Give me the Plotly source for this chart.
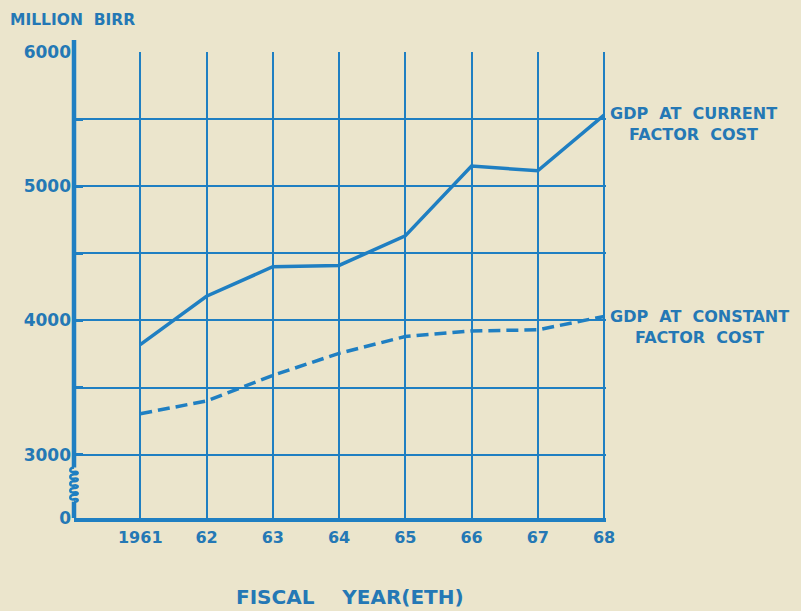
import plotly.graph_objects as go

years = [1961, 1962, 1963, 1964, 1965, 1966, 1967, 1968]
year_labels = ["1961", "62", "63", "64", "65", "66", "67", "68"]
gdp_current = [3820, 4180, 4400, 4410, 4630, 5150, 5115, 5530]
gdp_constant = [3305, 3400, 3590, 3755, 3880, 3922, 3930, 4030]

y_tickvals = [2528, 3000, 3500, 4000, 4500, 5000, 5500, 6000]
y_ticktext = ["0", "3000", "", "4000", "", "5000", "", "6000"]

BLUE = "#1f7fc2"
TEXT = "#2478b5"
BG = "#ebe5cc"
FONT = "DejaVu Sans"

YMIN, YMAX = 2528, 6000
PLOT_W, PLOT_H = 532, 466


def py(v):
    return (v - YMIN) / (YMAX - YMIN)


fig = go.Figure()
fig.add_trace(go.Scatter(x=years, y=gdp_current, mode="lines",
                         line=dict(color=BLUE, width=3.5), showlegend=False))
fig.add_trace(go.Scatter(x=years, y=gdp_constant, mode="lines",
                         line=dict(color=BLUE, width=3.5, dash="12px,6px"), showlegend=False))

# y axis line with break (coil), drawn as paper shapes so they are not clipped
shapes = []
ytop, ybot = py(2905), py(2650)
shapes.append(dict(type="line", xref="paper", yref="paper", x0=0, x1=0, y0=ytop, y1=1 + 12 / PLOT_H,
                   line=dict(color=BLUE, width=4.5)))
shapes.append(dict(type="line", xref="paper", yref="paper", x0=0, x1=0, y0=0, y1=ybot,
                   line=dict(color=BLUE, width=4.5)))
n = 5
step = (ytop - ybot) / n
w = 5 / PLOT_W
coil = f"M 0,{ytop}"
for i in range(n):
    ya = ytop - i * step
    yb = ya - step
    coil += f" C {-w},{ya - step*0.1} {-w},{yb + step*0.2} 0,{yb + step*0.35}"
    coil += f" C {w},{yb + step*0.5} {w},{yb - step*0.1} 0,{yb}"
shapes.append(dict(type="path", xref="paper", yref="paper", path=coil,
                   line=dict(color=BLUE, width=2.5)))

fig.update_layout(
    width=801, height=611,
    paper_bgcolor=BG, plot_bgcolor=BG,
    margin=dict(l=74, r=195, t=52, b=93),
    font=dict(family=FONT, color=TEXT, weight="bold"),
    shapes=shapes,
    xaxis=dict(range=[1960, 1968.03], tickvals=years, ticktext=year_labels,
               showgrid=True, gridcolor=BLUE, gridwidth=2,
               showline=True, linecolor=BLUE, linewidth=4,
               zeroline=False, ticks="", ticklabelstandoff=2,
               tickfont=dict(family=FONT, size=16, color=TEXT, weight="bold")),
    yaxis=dict(range=[YMIN, YMAX], tickvals=y_tickvals, ticktext=y_ticktext,
               showgrid=True, gridcolor=BLUE, gridwidth=2,
               showline=False, zeroline=False,
               ticks="inside", ticklen=9, tickwidth=3, tickcolor=BLUE,
               ticklabelstandoff=2,
               tickfont=dict(family=FONT, size=17, color=TEXT, weight="bold")),
    annotations=[
        dict(text="MILLION  BIRR", xref="paper", yref="paper", x=-66 / PLOT_W, y=1 + 32 / PLOT_H,
             xanchor="left", yanchor="middle", showarrow=False,
             font=dict(family=FONT, size=15.5, color=TEXT, weight="bold")),
        dict(text="FISCAL    YEAR(ETH)", xref="paper", yref="paper", x=(350 - 74) / PLOT_W,
             y=-(597 - 518) / PLOT_H,
             xanchor="center", yanchor="middle", showarrow=False,
             font=dict(family=FONT, size=20, color=TEXT, weight="bold")),
        dict(text="GDP  AT  CURRENT<br>FACTOR  COST", xref="x", yref="y", x=1968, y=gdp_current[-1],
             xanchor="left", yanchor="top", xshift=4, yshift=13, showarrow=False, align="center",
             font=dict(family=FONT, size=16, color=TEXT, weight="bold")),
        dict(text="GDP  AT  CONSTANT<br>FACTOR  COST", xref="x", yref="y", x=1968, y=gdp_constant[-1],
             xanchor="left", yanchor="top", xshift=4, yshift=11, showarrow=False, align="center",
             font=dict(family=FONT, size=16, color=TEXT, weight="bold")),
    ],
)

fig.write_html("out.html", config={"displayModeBar": False},
               post_script="document.body.style.margin='0';")
